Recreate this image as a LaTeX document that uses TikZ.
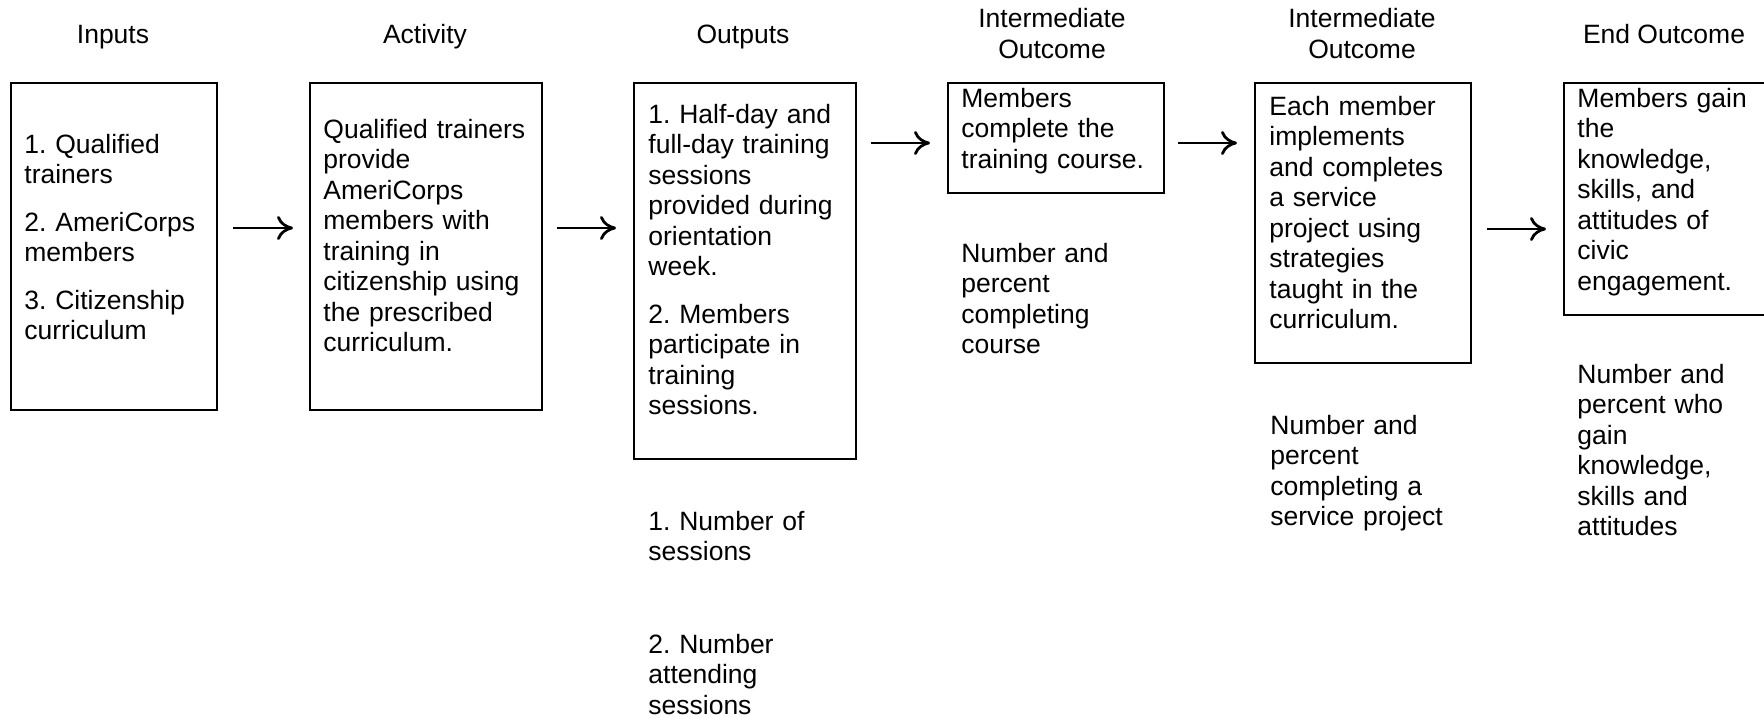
\documentclass[tikz,border=0pt]{standalone}
\usepackage{fontspec}
\setmainfont{Liberation Sans}
\usetikzlibrary{arrows.meta}
\frenchspacing
\begin{document}
\begin{tikzpicture}[x=0.5pt,y=-0.5pt,
  box/.style={draw, line width=1pt, anchor=north west, inner sep=0pt},
  txt/.style={anchor=base west, inner sep=0pt, text width=125pt, align=left,
    font=\fontsize{13.25}{15.25}\selectfont},
  ttl/.style={anchor=base, inner sep=0pt, align=center,
    font=\fontsize{13.25}{15.5}\selectfont},
  arr/.style={line width=1.4pt, -{To[length=8pt,width=12pt]}}]
\useasboundingbox (0,0) rectangle (1764,717);

% titles
\node[ttl] (t1) at (113,44) {Inputs};
\node[ttl] (t2) at (425,44) {Activity};
\node[ttl] (t3) at (743,44) {Outputs};
\node[ttl] (t4) at (1052,59) {Intermediate\\Outcome};
\node[ttl] (t5) at (1362,59) {Intermediate\\Outcome};
\node[ttl] (t6) at (1664,44) {End Outcome};

% boxes
\node[box, minimum width=103pt, minimum height=163.5pt] (b1) at (10,82) {};
\node[box, minimum width=116pt, minimum height=163.5pt] (b2) at (309,82) {};
\node[box, minimum width=111pt, minimum height=188pt] (b3) at (633,82) {};
\node[box, minimum width=108pt, minimum height=55pt] (b4) at (947,82) {};
\node[box, minimum width=108pt, minimum height=140pt] (b5) at (1254,82) {};
\node[box, minimum width=102pt, minimum height=116pt] (b6) at (1563,82) {};

% box texts
\node[txt] (x1) at (24,153) {1. Qualified\\trainers\\[8.5pt]2. AmeriCorps\\members\\[8.5pt]3. Citizenship\\curriculum};
\node[txt] (x2) at (323,138) {Qualified trainers\\provide\\AmeriCorps\\members with\\training in\\citizenship using\\the prescribed\\curriculum.};
\node[txt] (x3) at (648,123) {1. Half-day and\\full-day training\\sessions\\provided during\\orientation\\week.\\[8.5pt]2. Members\\participate in\\training\\sessions.};
\node[txt] (x4) at (961,107) {Members\\complete the\\training course.};
\node[txt] (x5) at (1269,115) {Each member\\implements\\and completes\\a service\\project using\\strategies\\taught in the\\curriculum.};
\node[txt] (x6) at (1577,107) {Members gain\\the\\knowledge,\\skills, and\\attitudes of\\civic\\engagement.};

% measures
\node[txt] (m3a) at (648,530) {1. Number of\\sessions};
\node[txt] (m3b) at (648,653) {2. Number\\attending\\sessions};
\node[txt] (m4) at (961,262) {Number and\\percent\\completing\\course};
\node[txt] (m5) at (1270,434) {Number and\\percent\\completing a\\service project};
\node[txt] (m6) at (1577,383) {Number and\\percent who\\gain\\knowledge,\\skills and\\attitudes};

% arrows
\coordinate (a1s) at (233,228); \coordinate (a1e) at (293,228);
\coordinate (a2s) at (557,228); \coordinate (a2e) at (616,228);
\coordinate (a3s) at (871,143); \coordinate (a3e) at (930,143);
\coordinate (a4s) at (1178,143); \coordinate (a4e) at (1237,143);
\coordinate (a5s) at (1487,229); \coordinate (a5e) at (1546,229);
\draw[arr] (a1s) -- (a1e);
\draw[arr] (a2s) -- (a2e);
\draw[arr] (a3s) -- (a3e);
\draw[arr] (a4s) -- (a4e);
\draw[arr] (a5s) -- (a5e);
\end{tikzpicture}
\end{document}
